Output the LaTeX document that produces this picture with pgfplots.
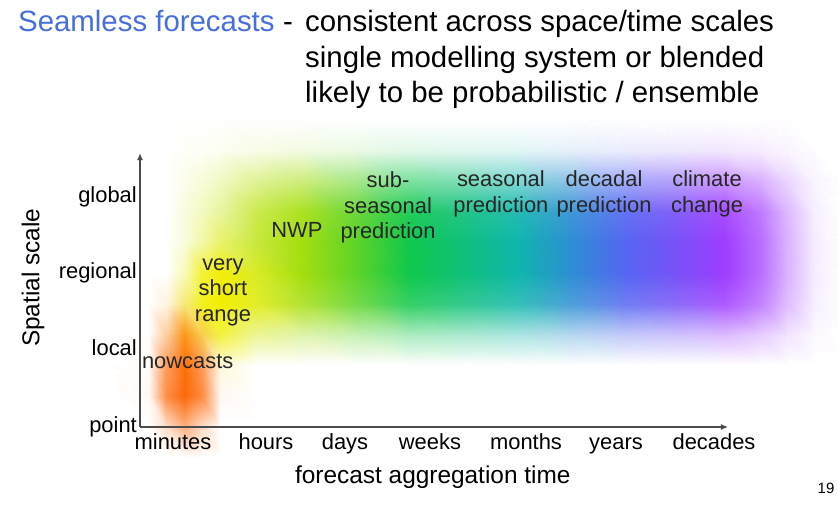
\documentclass[border=0pt]{standalone}
\usepackage{fontspec}
\setmainfont{Liberation Sans}
\usepackage{pgfplots}
\usepackage{pgfplotstable}
\pgfplotsset{compat=1.18}
\usetikzlibrary{arrows.meta}

\definecolor{titleblue}{RGB}{70,110,220}

% colour field of the blurred "seamless" band, 20 x 12 grid (x varies fastest)
\pgfplotstableread{
x y c
-0.3 -0.4 rgb255=255,255,255
0.1 -0.4 rgb255=255,255,255
0.3 -0.4 rgb255=255,255,255
0.5 -0.4 rgb255=255,255,255
0.7 -0.4 rgb255=255,255,255
0.9 -0.4 rgb255=255,255,255
1.3 -0.4 rgb255=255,255,255
1.8 -0.4 rgb255=255,255,255
2.4 -0.4 rgb255=255,255,255
3.0 -0.4 rgb255=255,255,255
3.6 -0.4 rgb255=255,255,255
4.2 -0.4 rgb255=255,255,255
4.8 -0.4 rgb255=255,255,255
5.4 -0.4 rgb255=255,255,255
6.0 -0.4 rgb255=255,255,255
6.5 -0.4 rgb255=255,255,255
6.9 -0.4 rgb255=255,255,255
7.2 -0.4 rgb255=255,255,255
7.5 -0.4 rgb255=255,255,255
7.8 -0.4 rgb255=255,255,255
-0.3 0.0 rgb255=255,255,255
0.1 0.0 rgb255=255,255,255
0.3 0.0 rgb255=254,221,199
0.5 0.0 rgb255=253,177,128
0.7 0.0 rgb255=254,221,199
0.9 0.0 rgb255=255,255,255
1.3 0.0 rgb255=255,255,255
1.8 0.0 rgb255=255,255,255
2.4 0.0 rgb255=255,255,255
3.0 0.0 rgb255=255,255,255
3.6 0.0 rgb255=255,255,255
4.2 0.0 rgb255=255,255,255
4.8 0.0 rgb255=255,255,255
5.4 0.0 rgb255=255,255,255
6.0 0.0 rgb255=255,255,255
6.5 0.0 rgb255=255,255,255
6.9 0.0 rgb255=255,255,255
7.2 0.0 rgb255=255,255,255
7.5 0.0 rgb255=255,255,255
7.8 0.0 rgb255=255,255,255
-0.3 0.4 rgb255=255,255,255
0.1 0.4 rgb255=255,249,245
0.3 0.4 rgb255=253,141,69
0.5 0.4 rgb255=252,105,10
0.7 0.4 rgb255=253,141,69
0.9 0.4 rgb255=255,249,245
1.3 0.4 rgb255=255,255,255
1.8 0.4 rgb255=255,255,255
2.4 0.4 rgb255=255,255,255
3.0 0.4 rgb255=255,255,255
3.6 0.4 rgb255=255,255,255
4.2 0.4 rgb255=255,255,255
4.8 0.4 rgb255=255,255,255
5.4 0.4 rgb255=255,255,255
6.0 0.4 rgb255=255,255,255
6.5 0.4 rgb255=255,255,255
6.9 0.4 rgb255=255,255,255
7.2 0.4 rgb255=255,255,255
7.5 0.4 rgb255=255,255,255
7.8 0.4 rgb255=255,255,255
-0.3 0.8 rgb255=255,255,255
0.1 0.8 rgb255=255,252,250
0.3 0.8 rgb255=253,156,93
0.5 0.8 rgb255=252,112,8
0.7 0.8 rgb255=253,156,93
0.9 0.8 rgb255=253,249,220
1.3 0.8 rgb255=255,255,255
1.8 0.8 rgb255=255,255,255
2.4 0.8 rgb255=255,255,255
3.0 0.8 rgb255=255,255,255
3.6 0.8 rgb255=255,255,255
4.2 0.8 rgb255=255,255,255
4.8 0.8 rgb255=255,255,255
5.4 0.8 rgb255=255,255,255
6.0 0.8 rgb255=255,255,255
6.5 0.8 rgb255=255,255,255
6.9 0.8 rgb255=255,255,255
7.2 0.8 rgb255=255,255,255
7.5 0.8 rgb255=255,255,255
7.8 0.8 rgb255=255,255,255
-0.3 1.2 rgb255=255,255,255
0.1 1.2 rgb255=255,255,255
0.3 1.2 rgb255=253,205,160
0.5 1.2 rgb255=251,150,25
0.7 1.2 rgb255=248,205,80
0.9 1.2 rgb255=243,242,65
1.3 1.2 rgb255=236,245,150
1.8 1.2 rgb255=224,243,171
2.4 1.2 rgb255=199,240,180
3.0 1.2 rgb255=171,236,192
3.6 1.2 rgb255=171,233,208
4.2 1.2 rgb255=171,229,226
4.8 1.2 rgb255=182,215,240
5.4 1.2 rgb255=196,201,250
6.0 1.2 rgb255=208,194,253
6.5 1.2 rgb255=221,187,255
6.9 1.2 rgb255=231,204,255
7.2 1.2 rgb255=242,228,255
7.5 1.2 rgb255=252,248,255
7.8 1.2 rgb255=255,255,255
-0.3 1.6 rgb255=255,255,255
0.1 1.6 rgb255=255,255,255
0.3 1.6 rgb255=254,245,225
0.5 1.6 rgb255=247,232,120
0.7 1.6 rgb255=242,240,29
0.9 1.6 rgb255=242,238,0
1.3 1.6 rgb255=227,237,40
1.8 1.6 rgb255=179,227,51
2.4 1.6 rgb255=119,218,72
3.0 1.6 rgb255=51,208,102
3.6 1.6 rgb255=51,201,142
4.2 1.6 rgb255=51,193,184
4.8 1.6 rgb255=77,159,218
5.4 1.6 rgb255=111,125,244
6.0 1.6 rgb255=142,106,249
6.5 1.6 rgb255=173,89,255
6.9 1.6 rgb255=195,130,255
7.2 1.6 rgb255=224,189,255
7.5 1.6 rgb255=247,239,255
7.8 1.6 rgb255=255,255,255
-0.3 2.0 rgb255=255,255,255
0.1 2.0 rgb255=255,255,255
0.3 2.0 rgb255=255,255,255
0.5 2.0 rgb255=248,250,185
0.7 2.0 rgb255=242,241,52
0.9 2.0 rgb255=241,238,7
1.3 2.0 rgb255=217,235,37
1.8 2.0 rgb255=165,222,15
2.4 2.0 rgb255=95,212,40
3.0 2.0 rgb255=15,200,75
3.6 2.0 rgb255=15,192,122
4.2 2.0 rgb255=15,182,172
4.8 2.0 rgb255=45,142,212
5.4 2.0 rgb255=85,102,242
6.0 2.0 rgb255=122,80,248
6.5 2.0 rgb255=158,60,255
6.9 2.0 rgb255=185,109,255
7.2 2.0 rgb255=219,178,255
7.5 2.0 rgb255=246,236,255
7.8 2.0 rgb255=255,255,255
-0.3 2.4 rgb255=255,255,255
0.1 2.4 rgb255=255,255,255
0.3 2.4 rgb255=255,255,255
0.5 2.4 rgb255=249,252,220
0.7 2.4 rgb255=243,248,166
0.9 2.4 rgb255=233,242,106
1.3 2.4 rgb255=201,232,60
1.8 2.4 rgb255=165,222,15
2.4 2.4 rgb255=95,212,40
3.0 2.4 rgb255=15,200,75
3.6 2.4 rgb255=15,192,122
4.2 2.4 rgb255=15,182,172
4.8 2.4 rgb255=45,142,212
5.4 2.4 rgb255=85,102,242
6.0 2.4 rgb255=122,80,248
6.5 2.4 rgb255=158,60,255
6.9 2.4 rgb255=185,109,255
7.2 2.4 rgb255=219,178,255
7.5 2.4 rgb255=246,236,255
7.8 2.4 rgb255=255,255,255
-0.3 2.8 rgb255=255,255,255
0.1 2.8 rgb255=255,255,255
0.3 2.8 rgb255=255,255,255
0.5 2.8 rgb255=249,252,223
0.7 2.8 rgb255=244,249,192
0.9 2.8 rgb255=232,245,158
1.3 2.8 rgb255=203,234,78
1.8 2.8 rgb255=172,225,34
2.4 2.8 rgb255=108,215,57
3.0 2.8 rgb255=34,204,89
3.6 2.8 rgb255=34,197,133
4.2 2.8 rgb255=34,188,179
4.8 2.8 rgb255=62,151,215
5.4 2.8 rgb255=99,114,243
6.0 2.8 rgb255=133,94,249
6.5 2.8 rgb255=166,76,255
6.9 2.8 rgb255=191,120,255
7.2 2.8 rgb255=222,184,255
7.5 2.8 rgb255=247,238,255
7.8 2.8 rgb255=255,255,255
-0.3 3.2 rgb255=255,255,255
0.1 3.2 rgb255=255,255,255
0.3 3.2 rgb255=255,255,255
0.5 3.2 rgb255=252,253,237
0.7 3.2 rgb255=248,252,217
0.9 3.2 rgb255=241,249,196
1.3 3.2 rgb255=224,242,149
1.8 3.2 rgb255=206,237,123
2.4 3.2 rgb255=167,231,137
3.0 3.2 rgb255=123,225,156
3.6 3.2 rgb255=123,220,182
4.2 3.2 rgb255=123,215,209
4.8 3.2 rgb255=140,193,231
5.4 3.2 rgb255=162,171,248
6.0 3.2 rgb255=182,159,251
6.5 3.2 rgb255=202,148,255
6.9 3.2 rgb255=217,175,255
7.2 3.2 rgb255=235,213,255
7.5 3.2 rgb255=250,244,255
7.8 3.2 rgb255=255,255,255
-0.3 3.6 rgb255=255,255,255
0.1 3.6 rgb255=255,255,255
0.3 3.6 rgb255=255,255,255
0.5 3.6 rgb255=254,255,250
0.7 3.6 rgb255=254,254,247
0.9 3.6 rgb255=252,254,242
1.3 3.6 rgb255=248,252,232
1.8 3.6 rgb255=244,251,226
2.4 3.6 rgb255=236,250,229
3.0 3.6 rgb255=226,248,233
3.6 3.6 rgb255=226,247,239
4.2 3.6 rgb255=226,246,245
4.8 3.6 rgb255=230,241,250
5.4 3.6 rgb255=235,237,253
6.0 3.6 rgb255=239,234,254
6.5 3.6 rgb255=243,232,255
6.9 3.6 rgb255=247,237,255
7.2 3.6 rgb255=250,245,255
7.5 3.6 rgb255=254,253,255
7.8 3.6 rgb255=255,255,255
-0.3 4.0 rgb255=255,255,255
0.1 4.0 rgb255=255,255,255
0.3 4.0 rgb255=255,255,255
0.5 4.0 rgb255=255,255,255
0.7 4.0 rgb255=255,255,255
0.9 4.0 rgb255=255,255,255
1.3 4.0 rgb255=255,255,255
1.8 4.0 rgb255=255,255,255
2.4 4.0 rgb255=255,255,255
3.0 4.0 rgb255=255,255,255
3.6 4.0 rgb255=255,255,255
4.2 4.0 rgb255=255,255,255
4.8 4.0 rgb255=255,255,255
5.4 4.0 rgb255=255,255,255
6.0 4.0 rgb255=255,255,255
6.5 4.0 rgb255=255,255,255
6.9 4.0 rgb255=255,255,255
7.2 4.0 rgb255=255,255,255
7.5 4.0 rgb255=255,255,255
7.8 4.0 rgb255=255,255,255
}\bandtable

\begin{document}
\begin{tikzpicture}
\useasboundingbox (0,0) rectangle (838bp,508bp);

\begin{axis}[
  at={(140bp,81bp)}, anchor=south west,
  x=90bp, y=76.7bp,
  xmin=0, xmax=6.533, ymin=0, ymax=3.57,
  clip=false,
  axis on top,
  axis lines*=left,
  axis line style={draw=black!70, line width=1.1bp, -{Latex[length=7bp,width=6bp]}},
  major tick length=0pt,
  xtick={0.367,1.4,2.278,3.222,4.289,5.289,6.378},
  xticklabels={minutes,hours,days,weeks,months,years,decades},
  ytick={0,1,2,3},
  yticklabels={point,local,regional,global},
  typeset ticklabels with strut,
  tick label style={font=\fontsize{22}{26}\selectfont},
  xticklabel style={yshift=-1bp},
  yticklabel style={inner xsep=3bp},
  xlabel={forecast aggregation time},
  ylabel={Spatial scale},
  label style={font=\fontsize{24.5}{28}\selectfont},
  xlabel style={at={(axis description cs:0.498,-0.182)}, anchor=center},
  ylabel style={at={(axis description cs:-0.182,0.545)}, anchor=center, rotate=0},
]
\addplot[surf, shader=interp, mesh/cols=20, mesh/color input=explicit,
  point meta=explicit symbolic] table[x=x, y=y, meta=c] {\bandtable};

\coordinate (nc) at (axis cs:0.02,0.86);
\coordinate (vs) at (axis cs:0.922,1.76);
\coordinate (nwp) at (axis cs:1.744,2.57);
\coordinate (sub) at (axis cs:2.756,2.86);
\coordinate (sea) at (axis cs:4.01,3.04);
\coordinate (dec) at (axis cs:5.156,3.04);
\coordinate (cli) at (axis cs:6.3,3.04);
\end{axis}

\node[anchor=base west, font=\fontsize{29.5}{35}\selectfont, text=titleblue, inner sep=0] at (18bp,476bp) {Seamless forecasts};
\node[anchor=base west, font=\fontsize{29.5}{35}\selectfont, inner sep=0] at (283bp,476bp) {-};
\node[anchor=base west, font=\fontsize{29.5}{35}\selectfont, inner sep=0] at (305bp,476bp) {consistent across space/time scales};
\node[anchor=base west, font=\fontsize{29.5}{35}\selectfont, inner sep=0] at (305bp,440bp) {single modelling system or blended};
\node[anchor=base west, font=\fontsize{29.5}{35}\selectfont, inner sep=0] at (305bp,405bp) {likely to be probabilistic / ensemble};
\node[font=\fontsize{15}{17}\selectfont] at (826bp,20bp) {19};

\begin{scope}[every node/.style={font=\fontsize{22}{25.5}\selectfont, text=black!85, align=center}]
\node[anchor=west, inner sep=0] at (nc) {nowcasts};
\node at (vs) {very\\short\\range};
\node at (nwp) {NWP};
\node at (sub) {sub-\\seasonal\\prediction};
\node at (sea) {seasonal\\prediction};
\node at (dec) {decadal\\prediction};
\node at (cli) {climate\\change};
\end{scope}
\end{tikzpicture}
\end{document}
